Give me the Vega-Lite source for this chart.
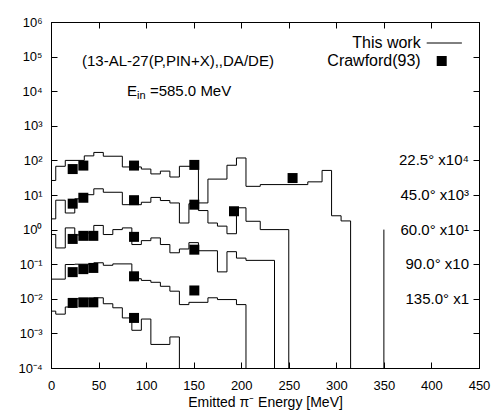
{
  "$schema": "https://vega.github.io/schema/vega-lite/v6.json",
  "width": 428,
  "height": 346,
  "autosize": "none",
  "padding": {"left": 51, "top": 22, "right": 16, "bottom": 42},
  "background": "white",
  "config": {
    "view": {"stroke": "black", "strokeWidth": 1},
    "font": "Liberation Sans",
    "axis": {
      "grid": false, "domainColor": "black", "tickColor": "black", "labelColor": "black", "titleColor": "black",
      "labelFont": "Liberation Sans", "titleFont": "Liberation Sans", "labelFontSize": 13, "titleFontSize": 14,
      "titleFontWeight": "normal", "labelFlush": false, "labelOverlap": false, "tickSize": -6
    }
  },
  "datasets": {
    "hist": [
      {"s":"a","E":0,"v":26.3},{"s":"a","E":5,"v":67.6},{"s":"a","E":15,"v":100},{"s":"a","E":35,"v":135},{"s":"a","E":45,"v":170},{"s":"a","E":55,"v":132},{"s":"a","E":75,"v":64.6},{"s":"a","E":95,"v":56.2},{"s":"a","E":105,"v":40.7},{"s":"a","E":115,"v":49},{"s":"a","E":125,"v":33.1},{"s":"a","E":135,"v":67.6},{"s":"a","E":155,"v":5.9},{"s":"a","E":165,"v":28.8},{"s":"a","E":185,"v":72.4},{"s":"a","E":195,"v":117.5},{"s":"a","E":205,"v":17.8},{"s":"a","E":220,"v":20},{"s":"a","E":270,"v":24},{"s":"a","E":285,"v":51.3},{"s":"a","E":295,"v":2.51},{"s":"a","E":305,"v":1.78},{"s":"a","E":315,"v":0.0001},
      {"s":"b","E":0,"v":2.04},{"s":"b","E":5,"v":7.08},{"s":"b","E":15,"v":3.02},{"s":"b","E":25,"v":7.76},{"s":"b","E":35,"v":10.2},{"s":"b","E":45,"v":15.1},{"s":"b","E":55,"v":12},{"s":"b","E":75,"v":5.25},{"s":"b","E":95,"v":6.17},{"s":"b","E":105,"v":8.51},{"s":"b","E":115,"v":6.92},{"s":"b","E":125,"v":5.89},{"s":"b","E":135,"v":1.55},{"s":"b","E":145,"v":5.6},{"s":"b","E":155,"v":3.55},{"s":"b","E":165,"v":1.55},{"s":"b","E":175,"v":1.26},{"s":"b","E":185,"v":0.76},{"s":"b","E":195,"v":4.27},{"s":"b","E":205,"v":1.74},{"s":"b","E":220,"v":1.0},{"s":"b","E":250,"v":0.0001},
      {"s":"c","E":0,"v":0.72},{"s":"c","E":5,"v":0.295},{"s":"c","E":15,"v":1.12},{"s":"c","E":25,"v":0.7},{"s":"c","E":35,"v":0.8},{"s":"c","E":45,"v":1.32},{"s":"c","E":55,"v":0.72},{"s":"c","E":65,"v":1.0},{"s":"c","E":75,"v":1.12},{"s":"c","E":85,"v":0.37},{"s":"c","E":95,"v":0.48},{"s":"c","E":105,"v":0.575},{"s":"c","E":115,"v":0.37},{"s":"c","E":125,"v":0.214},{"s":"c","E":135,"v":0.275},{"s":"c","E":145,"v":0.42},{"s":"c","E":155,"v":0.245},{"s":"c","E":175,"v":0.06},{"s":"c","E":185,"v":0.23},{"s":"c","E":195,"v":0.15},{"s":"c","E":205,"v":0.129},{"s":"c","E":235,"v":0.0001},
      {"s":"d","E":0,"v":0.037},{"s":"d","E":15,"v":0.098},{"s":"d","E":25,"v":0.1},{"s":"d","E":45,"v":0.11},{"s":"d","E":55,"v":0.093},{"s":"d","E":65,"v":0.102},{"s":"d","E":85,"v":0.038},{"s":"d","E":95,"v":0.034},{"s":"d","E":105,"v":0.03},{"s":"d","E":115,"v":0.023},{"s":"d","E":125,"v":0.0166},{"s":"d","E":135,"v":0.0068},{"s":"d","E":145,"v":0.0079},{"s":"d","E":165,"v":0.0107},{"s":"d","E":175,"v":0.0095},{"s":"d","E":195,"v":0.0068},{"s":"d","E":205,"v":0.0001},
      {"s":"e","E":0,"v":0.0044},{"s":"e","E":5,"v":0.0036},{"s":"e","E":15,"v":0.0058},{"s":"e","E":25,"v":0.01},{"s":"e","E":45,"v":0.0107},{"s":"e","E":55,"v":0.0072},{"s":"e","E":65,"v":0.0055},{"s":"e","E":75,"v":0.0028},{"s":"e","E":85,"v":0.00123},{"s":"e","E":95,"v":0.0026},{"s":"e","E":105,"v":0.00048},{"s":"e","E":125,"v":0.00079},{"s":"e","E":135,"v":0.0001}
    ],
    "pts": [
      {"s":"a","E":22.8,"v":56.2},{"s":"a","E":34,"v":70.8},{"s":"a","E":87.3,"v":70.8},{"s":"a","E":150.7,"v":74.1},{"s":"a","E":254,"v":30.9},
      {"s":"b","E":22.8,"v":5.62},{"s":"b","E":34,"v":8.32},{"s":"b","E":87.3,"v":7.08},{"s":"b","E":150.7,"v":5.25},{"s":"b","E":192.4,"v":3.39},
      {"s":"c","E":22.8,"v":0.537},{"s":"c","E":34,"v":0.66},{"s":"c","E":44.5,"v":0.66},{"s":"c","E":87.3,"v":0.617},{"s":"c","E":150.7,"v":0.263},
      {"s":"d","E":22.8,"v":0.059},{"s":"d","E":34,"v":0.072},{"s":"d","E":44.5,"v":0.078},{"s":"d","E":87.3,"v":0.0447},{"s":"d","E":150.7,"v":0.0174},
      {"s":"e","E":22.8,"v":0.0076},{"s":"e","E":34,"v":0.0079},{"s":"e","E":44.5,"v":0.0079},{"s":"e","E":87.3,"v":0.0028}
    ],
    "extra": [{"E":350,"v":1,"v2":0.0001}],
    "legline": [{"E":395,"E2":432,"v":247000}],
    "legpt": [{"E":410.8,"v":74600}],
    "lefttext": [
      {"E":32.6,"v":74600,"t":"(13-AL-27(P,PIN+X),,DA/DE)"},
      {"E":80,"v":10100,"t":"E"},
      {"E":104,"v":10100,"t":"=585.0 MeV"}
    ],
    "subtext": [{"E":90.5,"v":7260,"t":"in"}],
    "legtext": [
      {"E":388.7,"v":247000,"t":"This work"},
      {"E":388.7,"v":74600,"t":"Crawford(93)"}
    ],
    "righttext": [
      {"E":439.5,"v":100,"t":"22.5° x10⁴"},
      {"E":439.5,"v":10,"t":"45.0° x10³"},
      {"E":439.5,"v":1,"t":"60.0° x10¹"},
      {"E":439.5,"v":0.1,"t":"90.0° x10"},
      {"E":439.5,"v":0.01,"t":"135.0° x1"}
    ]
  },
  "layer": [
    {
      "data": {"name": "hist"},
      "mark": {"type": "line", "interpolate": "step-after", "color": "black", "strokeWidth": 1, "clip": true},
      "encoding": {
        "x": {"field": "E", "type": "quantitative",
          "scale": {"domain": [0, 450], "nice": false, "zero": false},
          "axis": {"orient": "bottom", "values": [0,50,100,150,200,250,300,350,400,450], "title": "Emitted π⁻ Energy [MeV]", "labelPadding": 17, "titlePadding": 3}},
        "y": {"field": "v", "type": "quantitative",
          "scale": {"type": "log", "domain": [0.0001, 1000000], "nice": false},
          "axis": {"orient": "left", "values": [0.0001,0.001,0.01,0.1,1,10,100,1000,10000,100000,1000000], "title": null, "labelPadding": 15,
            "labelExpr": "'10' + ['⁻⁴','⁻³','⁻²','⁻¹','⁰','¹','²','³','⁴','⁵','⁶'][round(log(datum.value)/LN10)+4]"}},
        "detail": {"field": "s"}
      }
    },
    {
      "data": {"name": "pts"},
      "mark": {"type": "point", "shape": "square", "filled": true, "color": "black", "opacity": 1, "size": 100},
      "encoding": {
        "x": {"field": "E", "type": "quantitative",
          "axis": {"orient": "top", "values": [0,50,100,150,200,250,300,350,400,450], "labels": false, "title": null}},
        "y": {"field": "v", "type": "quantitative",
          "axis": {"orient": "right", "values": [0.0001,0.001,0.01,0.1,1,10,100,1000,10000,100000,1000000], "labels": false, "title": null}}
      }
    },
    {
      "data": {"name": "extra"},
      "mark": {"type": "rule", "color": "black", "strokeWidth": 1},
      "encoding": {
        "x": {"field": "E", "type": "quantitative", "axis": null},
        "y": {"field": "v", "type": "quantitative", "axis": null},
        "y2": {"field": "v2"}
      }
    },
    {
      "data": {"name": "legline"},
      "mark": {"type": "rule", "color": "black", "strokeWidth": 1},
      "encoding": {
        "x": {"field": "E", "type": "quantitative", "axis": null},
        "x2": {"field": "E2"},
        "y": {"field": "v", "type": "quantitative", "axis": null}
      }
    },
    {
      "data": {"name": "legpt"},
      "mark": {"type": "point", "shape": "square", "filled": true, "color": "black", "opacity": 1, "size": 100},
      "encoding": {
        "x": {"field": "E", "type": "quantitative", "axis": null},
        "y": {"field": "v", "type": "quantitative", "axis": null}
      }
    },
    {
      "data": {"name": "lefttext"},
      "mark": {"type": "text", "align": "left", "baseline": "middle", "fontSize": 15, "font": "Liberation Sans", "color": "black"},
      "encoding": {
        "x": {"field": "E", "type": "quantitative", "axis": null},
        "y": {"field": "v", "type": "quantitative", "axis": null},
        "text": {"field": "t"}
      }
    },
    {
      "data": {"name": "subtext"},
      "mark": {"type": "text", "align": "left", "baseline": "middle", "fontSize": 11, "font": "Liberation Sans", "color": "black"},
      "encoding": {
        "x": {"field": "E", "type": "quantitative", "axis": null},
        "y": {"field": "v", "type": "quantitative", "axis": null},
        "text": {"field": "t"}
      }
    },
    {
      "data": {"name": "legtext"},
      "mark": {"type": "text", "align": "right", "baseline": "middle", "fontSize": 16, "font": "Liberation Sans", "color": "black"},
      "encoding": {
        "x": {"field": "E", "type": "quantitative", "axis": null},
        "y": {"field": "v", "type": "quantitative", "axis": null},
        "text": {"field": "t"}
      }
    },
    {
      "data": {"name": "righttext"},
      "mark": {"type": "text", "align": "right", "baseline": "middle", "fontSize": 15, "font": "Liberation Sans", "color": "black"},
      "encoding": {
        "x": {"field": "E", "type": "quantitative", "axis": null},
        "y": {"field": "v", "type": "quantitative", "axis": null},
        "text": {"field": "t"}
      }
    }
  ],
  "resolve": {"axis": {"x": "independent", "y": "independent"}}
}
